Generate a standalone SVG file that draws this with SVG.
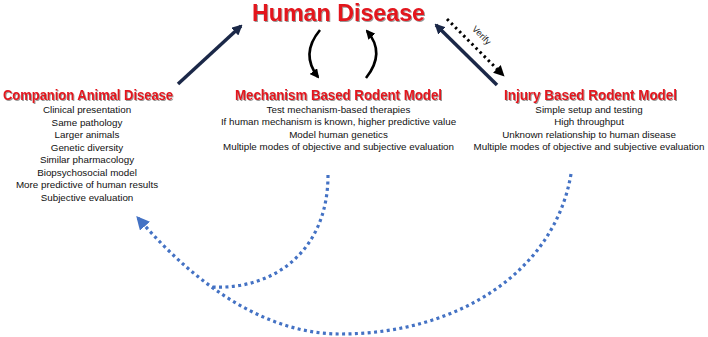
<svg xmlns="http://www.w3.org/2000/svg" width="708" height="337" viewBox="0 0 708 337">
<defs>
<style>
.title{font-family:"Liberation Sans",Arial,sans-serif;font-weight:bold;fill:#e3141e;text-anchor:middle}
.body{font-family:"Liberation Sans",Arial,sans-serif;font-size:9.8px;fill:#111;text-anchor:middle}
.navy{stroke:#1b2848;stroke-width:3.5;fill:none}
.blk{stroke:#000;stroke-width:2.6;fill:none}
.blue{stroke:#4472c4;stroke-width:3.2;fill:none;stroke-dasharray:3 3.4}
</style>
<filter id="sh" x="-5%" y="-20%" width="110%" height="150%">
<feDropShadow dx="1" dy="1" stdDeviation="0.6" flood-color="#444" flood-opacity="0.55"/>
</filter>
<marker id="mNavy" viewBox="0 0 10 10" refX="8" refY="5" markerWidth="3" markerHeight="3" orient="auto" markerUnits="strokeWidth">
<path d="M0,0 L10,5 L0,10 z" fill="#1b2848"/>
</marker>
<marker id="mBlk" viewBox="0 0 10 10" refX="8" refY="5" markerWidth="3.6" markerHeight="3.6" orient="auto" markerUnits="strokeWidth">
<path d="M0,0 L10,5 L0,10 z" fill="#000"/>
</marker>
<marker id="mBlue" viewBox="0 0 10 10" refX="8" refY="5" markerWidth="4.2" markerHeight="4.2" orient="auto" markerUnits="strokeWidth">
<path d="M0,0 L10,5 L0,10 z" fill="#4472c4"/>
</marker>
</defs>
<rect width="708" height="337" fill="#fff"/>

<g id="human-disease">
<text class="title" x="338.5" y="21" font-size="24" textLength="173" lengthAdjust="spacingAndGlyphs" filter="url(#sh)">Human Disease</text>
</g>

<g id="companion">
<text class="title" x="88" y="100" font-size="14.5" textLength="170" lengthAdjust="spacingAndGlyphs" filter="url(#sh)">Companion Animal Disease</text>
<text class="body" x="87" y="113">Clinical presentation</text>
<text class="body" x="87" y="125.5">Same pathology</text>
<text class="body" x="87" y="138">Larger animals</text>
<text class="body" x="87" y="150.5">Genetic diversity</text>
<text class="body" x="87" y="163">Similar pharmacology</text>
<text class="body" x="87" y="175.5">Biopsychosocial model</text>
<text class="body" x="87" y="188">More predictive of human results</text>
<text class="body" x="87" y="200.5">Subjective evaluation</text>
</g>

<g id="mechanism">
<text class="title" x="338.5" y="100" font-size="14.5" textLength="207" lengthAdjust="spacingAndGlyphs" filter="url(#sh)">Mechanism Based Rodent Model</text>
<text class="body" x="338.5" y="112.5">Test mechanism-based therapies</text>
<text class="body" x="338.5" y="125">If human mechanism is known, higher predictive value</text>
<text class="body" x="338.5" y="137.5">Model human genetics</text>
<text class="body" x="338.5" y="150">Multiple modes of objective and subjective evaluation</text>
</g>

<g id="injury">
<text class="title" x="590.5" y="100" font-size="14.5" textLength="173" lengthAdjust="spacingAndGlyphs" filter="url(#sh)">Injury Based Rodent Model</text>
<text class="body" x="589" y="112.5">Simple setup and testing</text>
<text class="body" x="589" y="125">High throughput</text>
<text class="body" x="589" y="137.5">Unknown relationship to human disease</text>
<text class="body" x="589" y="150">Multiple modes of objective and subjective evaluation</text>
</g>

<g id="connectors">
<line class="navy" x1="178" y1="84" x2="241" y2="26" marker-end="url(#mNavy)"/>
<line class="navy" x1="497" y1="85" x2="436" y2="25" marker-end="url(#mNavy)"/>
<line x1="447" y1="19" x2="503" y2="75" stroke="#000" stroke-width="3" stroke-dasharray="2.4 3.4" marker-end="url(#mBlk)"/>
<text x="481" y="38" font-family="Liberation Sans,Arial,sans-serif" font-size="9" fill="#222" text-anchor="middle" transform="rotate(45 481 36)">Verify</text>
<path class="blk" d="M320,30 Q300,54 318,77" marker-end="url(#mBlk)"/>
<path class="blk" d="M366,78 Q386,53 367,31" marker-end="url(#mBlk)"/>
<path class="blue" d="M328,175 C328,250 275,290 212,287"/>
<path class="blue" d="M571,174 C555,270 460,334 340,334 C270,334 200,290 138,218" marker-end="url(#mBlue)"/>
</g>
</svg>
